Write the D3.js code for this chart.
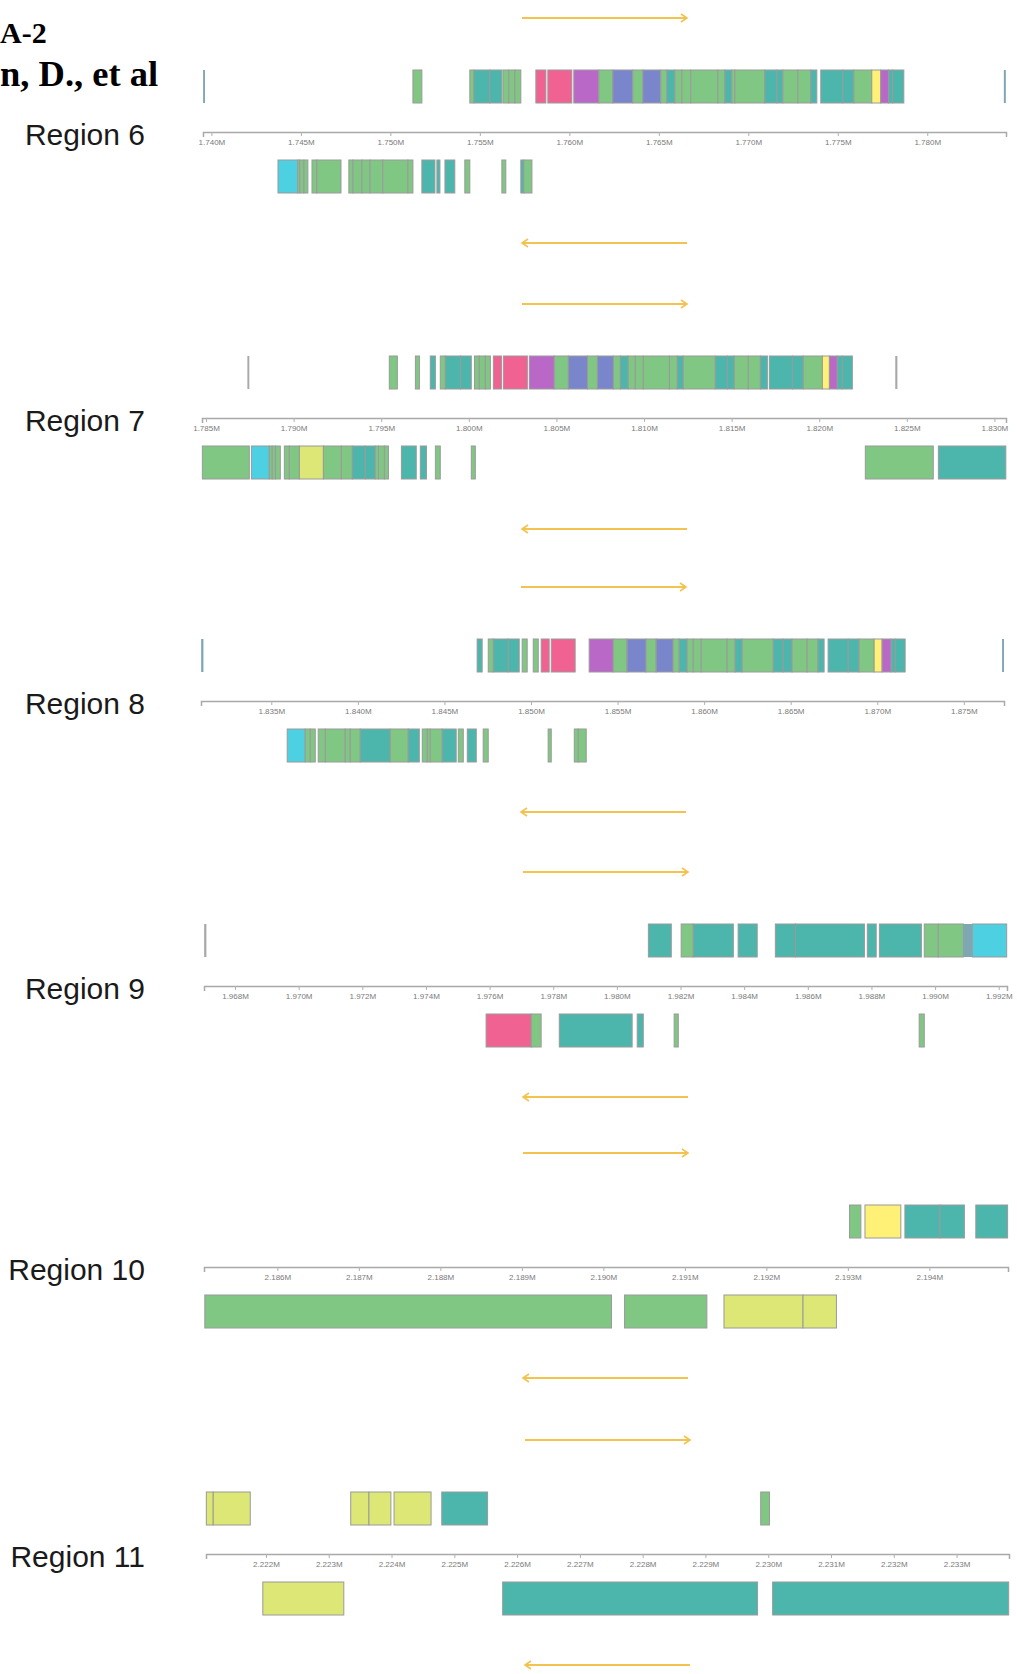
<!DOCTYPE html>
<html>
<head>
<meta charset="utf-8">
<script src="https://cdn.jsdelivr.net/npm/d3@7"></script>
<style>
  body { margin: 0; background: #fff; }
  svg { display: block; }
</style>
</head>
<body>
<div id="chart"></div>
<script>
// ---- data (bp) ----
const regionNames = ["Region 6", "Region 7", "Region 8", "Region 9", "Region 10", "Region 11"];
const regionDomains = [
  [1739530, 1784400], [1784770, 1830660], [1830940, 1877320],
  [1967025, 1992260], [2185100, 2194965], [2221045, 2233835]
];
const tickSteps = [5000, 5000, 5000, 2000, 1000, 1000];

// [start, end, category]
const forward6 = [
  [1739535, 1739640, "S"], [1751260, 1751760, "G"], [1754440, 1754670, "G"],
  [1754670, 1755560, "T"], [1755560, 1756230, "T"], [1756290, 1756620, "G"],
  [1756620, 1756960, "G"], [1756960, 1757290, "G"], [1758130, 1758690, "P"],
  [1758800, 1760140, "P"], [1760250, 1761650, "V"], [1761650, 1762430, "G"],
  [1762430, 1763550, "B"], [1763550, 1764110, "G"], [1764110, 1765110, "B"],
  [1765110, 1765450, "G"], [1765450, 1765900, "T"], [1765900, 1766290, "G"],
  [1766290, 1766790, "G"], [1766790, 1768300, "G"], [1768300, 1768690, "G"],
  [1768690, 1769080, "T"], [1769080, 1769250, "G"], [1769250, 1770920, "G"],
  [1770920, 1771600, "T"], [1771600, 1771930, "T"], [1771930, 1772770, "G"],
  [1772770, 1773490, "G"], [1773490, 1773830, "T"], [1774050, 1775280, "T"],
  [1775280, 1775900, "T"], [1775900, 1776900, "G"], [1776900, 1777400, "Y"],
  [1777400, 1777850, "V"], [1777850, 1778070, "T"], [1778070, 1778690, "T"],
  [1784280, 1784390, "S"]
];
const reverse6 = [
  [1743720, 1744830, "C"], [1744830, 1744940, "G"], [1744940, 1745170, "G"],
  [1745170, 1745390, "G"], [1745620, 1745890, "G"], [1745890, 1747240, "G"],
  [1747680, 1747910, "G"], [1747910, 1748410, "G"], [1748410, 1748860, "G"],
  [1748860, 1749580, "G"], [1749580, 1750980, "G"], [1750980, 1751260, "G"],
  [1751760, 1752490, "T"], [1752600, 1752770, "T"], [1753050, 1753600, "T"],
  [1754160, 1754440, "G"], [1756230, 1756450, "G"], [1757290, 1757460, "T"],
  [1757460, 1757910, "G"]
];

const forward7 = [
  [1787360, 1787470, "N"], [1795460, 1795920, "G"], [1796950, 1797180, "G"],
  [1797800, 1798090, "T"], [1798370, 1798660, "G"], [1798660, 1799520, "T"],
  [1799520, 1800140, "T"], [1800320, 1800600, "G"], [1800600, 1800940, "G"],
  [1800940, 1801230, "G"], [1801400, 1801860, "P"], [1801970, 1803340, "P"],
  [1803450, 1804880, "V"], [1804880, 1805680, "G"], [1805680, 1806770, "B"],
  [1806770, 1807340, "G"], [1807340, 1808250, "B"], [1808250, 1808650, "G"],
  [1808650, 1809100, "T"], [1809100, 1809500, "G"], [1809500, 1809960, "G"],
  [1809960, 1811450, "G"], [1811450, 1811900, "G"], [1811900, 1812240, "T"],
  [1812240, 1814070, "G"], [1814070, 1814760, "T"], [1814760, 1815150, "T"],
  [1815150, 1815950, "G"], [1815950, 1816640, "G"], [1816640, 1817040, "T"],
  [1817150, 1818470, "T"], [1818470, 1819090, "T"], [1819090, 1820180, "G"],
  [1820180, 1820580, "Y"], [1820580, 1821030, "V"], [1821030, 1821320, "T"],
  [1821320, 1821890, "T"], [1824340, 1824460, "N"]
];
const reverse7 = [
  [1784790, 1787470, "G"], [1787590, 1788610, "C"], [1788610, 1788780, "G"],
  [1788780, 1788960, "G"], [1788960, 1789240, "G"], [1789470, 1789750, "G"],
  [1789750, 1790330, "G"], [1790330, 1791700, "L"], [1791700, 1792720, "G"],
  [1792720, 1793350, "G"], [1793350, 1794090, "T"], [1794090, 1794660, "T"],
  [1794660, 1794840, "G"], [1794840, 1795180, "G"], [1795180, 1795410, "G"],
  [1796150, 1797000, "T"], [1797230, 1797580, "T"], [1798090, 1798370, "G"],
  [1800140, 1800370, "G"], [1822630, 1826510, "G"], [1826800, 1830650, "T"]
];

const forward8 = [
  [1830950, 1831080, "S"], [1846890, 1847180, "T"], [1847530, 1847820, "G"],
  [1847820, 1848680, "T"], [1848680, 1849320, "T"], [1849490, 1849780, "G"],
  [1850130, 1850420, "G"], [1850590, 1851050, "P"], [1851170, 1852550, "P"],
  [1853360, 1854750, "V"], [1854750, 1855550, "G"], [1855550, 1856650, "B"],
  [1856650, 1857230, "G"], [1857230, 1858210, "B"], [1858210, 1858560, "G"],
  [1858560, 1859020, "T"], [1859020, 1859370, "G"], [1859370, 1859830, "G"],
  [1859830, 1861330, "G"], [1861330, 1861790, "G"], [1861790, 1862200, "T"],
  [1862200, 1863990, "G"], [1863990, 1864560, "T"], [1864560, 1865080, "T"],
  [1865080, 1865950, "G"], [1865950, 1866580, "G"], [1866580, 1866930, "T"],
  [1867160, 1868320, "T"], [1868320, 1868950, "T"], [1868950, 1869820, "G"],
  [1869820, 1870280, "Y"], [1870280, 1870800, "V"], [1870800, 1871030, "T"],
  [1871030, 1871610, "T"], [1877210, 1877320, "S"]
];
const reverse8 = [
  [1835920, 1836960, "C"], [1836960, 1837250, "G"], [1837250, 1837540, "G"],
  [1837710, 1838120, "G"], [1838120, 1839270, "G"], [1839270, 1839560, "G"],
  [1839560, 1840140, "G"], [1840140, 1841870, "T"], [1841870, 1842910, "G"],
  [1842910, 1843550, "T"], [1843720, 1844010, "G"], [1844010, 1844180, "G"],
  [1844180, 1844870, "G"], [1844870, 1845680, "T"], [1845800, 1846090, "G"],
  [1846320, 1846840, "T"], [1847240, 1847530, "G"], [1850990, 1851170, "G"],
  [1852500, 1852730, "G"], [1852730, 1853190, "G"]
];

const forward9 = [
  [1967030, 1967100, "N"], [1980990, 1981710, "T"], [1982020, 1982400, "G"],
  [1982400, 1983660, "T"], [1983810, 1984410, "T"], [1984980, 1985610, "T"],
  [1985610, 1987780, "T"], [1987870, 1988150, "T"], [1988250, 1989570, "T"],
  [1989660, 1990100, "G"], [1990100, 1990890, "G"], [1990890, 1991170, "S"],
  [1991170, 1992250, "C"]
];
const reverse9 = [
  [1975890, 1977310, "P"], [1977310, 1977620, "G"], [1978190, 1980480, "T"],
  [1980640, 1980830, "T"], [1981800, 1981930, "G"], [1989500, 1989660, "G"]
];

const forward10 = [
  [2193020, 2193160, "G"], [2193210, 2193650, "Y"], [2193700, 2194130, "T"],
  [2194130, 2194430, "T"], [2194570, 2194960, "T"]
];
const reverse10 = [
  [2185110, 2190100, "G"], [2190260, 2191270, "G"], [2191480, 2192450, "L"],
  [2192450, 2192860, "L"]
];

const forward11 = [
  [2221050, 2221160, "L"], [2221160, 2221750, "L"], [2223350, 2223640, "L"],
  [2223640, 2223990, "L"], [2224040, 2224630, "L"], [2224800, 2225530, "T"],
  [2229880, 2230020, "G"]
];
const reverse11 = [
  [2221950, 2223240, "L"], [2225770, 2229830, "T"], [2230070, 2233830, "T"]
];

const forwardGenes = [forward6, forward7, forward8, forward9, forward10, forward11];
const reverseGenes = [reverse6, reverse7, reverse8, reverse9, reverse10, reverse11];

// ---- styles / layout ----
const colorOf = {
  G: "#81c784", T: "#4db6ac", P: "#f06292", V: "#ba68c8", B: "#7986cb",
  Y: "#fff176", L: "#dce775", C: "#4dd0e1", S: "#7fa7b3", N: "#a8a8a8"
};
const width = 1017, height = 1674;
const regionTop = [18, 304, 587, 872, 1153, 1440];
const axisLeft = [203, 202, 201, 204, 204, 206];
const axisRight = [1006, 1006, 1004, 1007, 1008, 1009];
const arrowShift = [0, 0, -1, 1, 1, 3];
const arrowColor = "#f3c24f";

let svg = d3.select("#chart")
    .append("svg")
    .attr("width", width)
    .attr("height", height)
    .style("background", "#fff");

// heading (the source page shows only the right part of it)
svg.append("text")
    .attr("x", 0).attr("y", 43)
    .style("font-family", "'Liberation Serif', 'Times New Roman', serif")
    .style("font-weight", "bold")
    .style("font-size", "30px")
    .text("A-2");
svg.append("text")
    .attr("x", 0).attr("y", 86)
    .style("font-family", "'Liberation Serif', 'Times New Roman', serif")
    .style("font-weight", "bold")
    .style("font-size", "36.5px")
    .text("n, D., et al");

function drawArrow(g, x1, x2, y, dir) {
    g.append("line")
        .attr("x1", x1).attr("x2", x2)
        .attr("y1", y).attr("y2", y)
        .attr("stroke", arrowColor)
        .attr("stroke-width", 2);
    let tip = dir > 0 ? x2 : x1;
    g.append("path")
        .attr("d", "M" + (tip - dir * 6) + "," + (y - 4) + "L" + tip + "," + y + "L" + (tip - dir * 6) + "," + (y + 4))
        .attr("fill", "none")
        .attr("stroke", arrowColor)
        .attr("stroke-width", 1.6);
}

function drawTrack(g, genes, x, y0, h) {
    g.append("g")
        .selectAll("rect")
        .data(genes)
        .enter()
        .append("rect")
        .attr("x", d => x(d[0]))
        .attr("y", y0)
        .attr("width", d => Math.max(1.5, x(d[1]) - x(d[0])))
        .attr("height", h)
        .attr("fill", d => colorOf[d[2]])
        .attr("stroke", d => (d[2] === "S" || d[2] === "N") ? "none" : "#9a9a9a")
        .attr("stroke-width", 1);
}

regionNames.forEach((name, i) => {
    let top = regionTop[i];
    let g = svg.append("g");
    let x = d3.scaleLinear()
        .domain(regionDomains[i])
        .range([axisLeft[i], axisRight[i]]);

    drawArrow(g, 522 + arrowShift[i], 687 + arrowShift[i], top, 1);
    drawArrow(g, 522 + arrowShift[i], 687 + arrowShift[i], top + 225, -1);

    drawTrack(g, forwardGenes[i], x, top + 52, 33);
    drawTrack(g, reverseGenes[i], x, top + 142, 33);

    let d = regionDomains[i], step = tickSteps[i];
    let ticks = d3.range(Math.ceil(d[0] / step) * step, d[1], step);
    let axis = g.append("g")
        .attr("transform", "translate(0," + (top + 114) + ")")
        .call(d3.axisBottom(x)
            .tickValues(ticks)
            .tickFormat(d3.format(".4s"))
            .tickSizeInner(4)
            .tickSizeOuter(5)
            .tickPadding(3));
    axis.select(".domain").attr("stroke", "#a9a9a9").attr("stroke-width", 1.5);
    axis.selectAll(".tick line").attr("stroke", "#b0b0b0");
    axis.selectAll(".tick text")
        .attr("fill", "#7a7a7a")
        .style("font-family", "'Liberation Sans', Arial, sans-serif")
        .style("font-size", "8px");

    // region label
    g.append("text")
        .attr("x", 145)
        .attr("y", top + 116)
        .attr("text-anchor", "end")
        .attr("dominant-baseline", "central")
        .style("font-family", "'Liberation Sans', Arial, sans-serif")
        .style("font-size", "30px")
        .attr("fill", "#1a1a1a")
        .text(name);
});
</script>
</body>
</html>
